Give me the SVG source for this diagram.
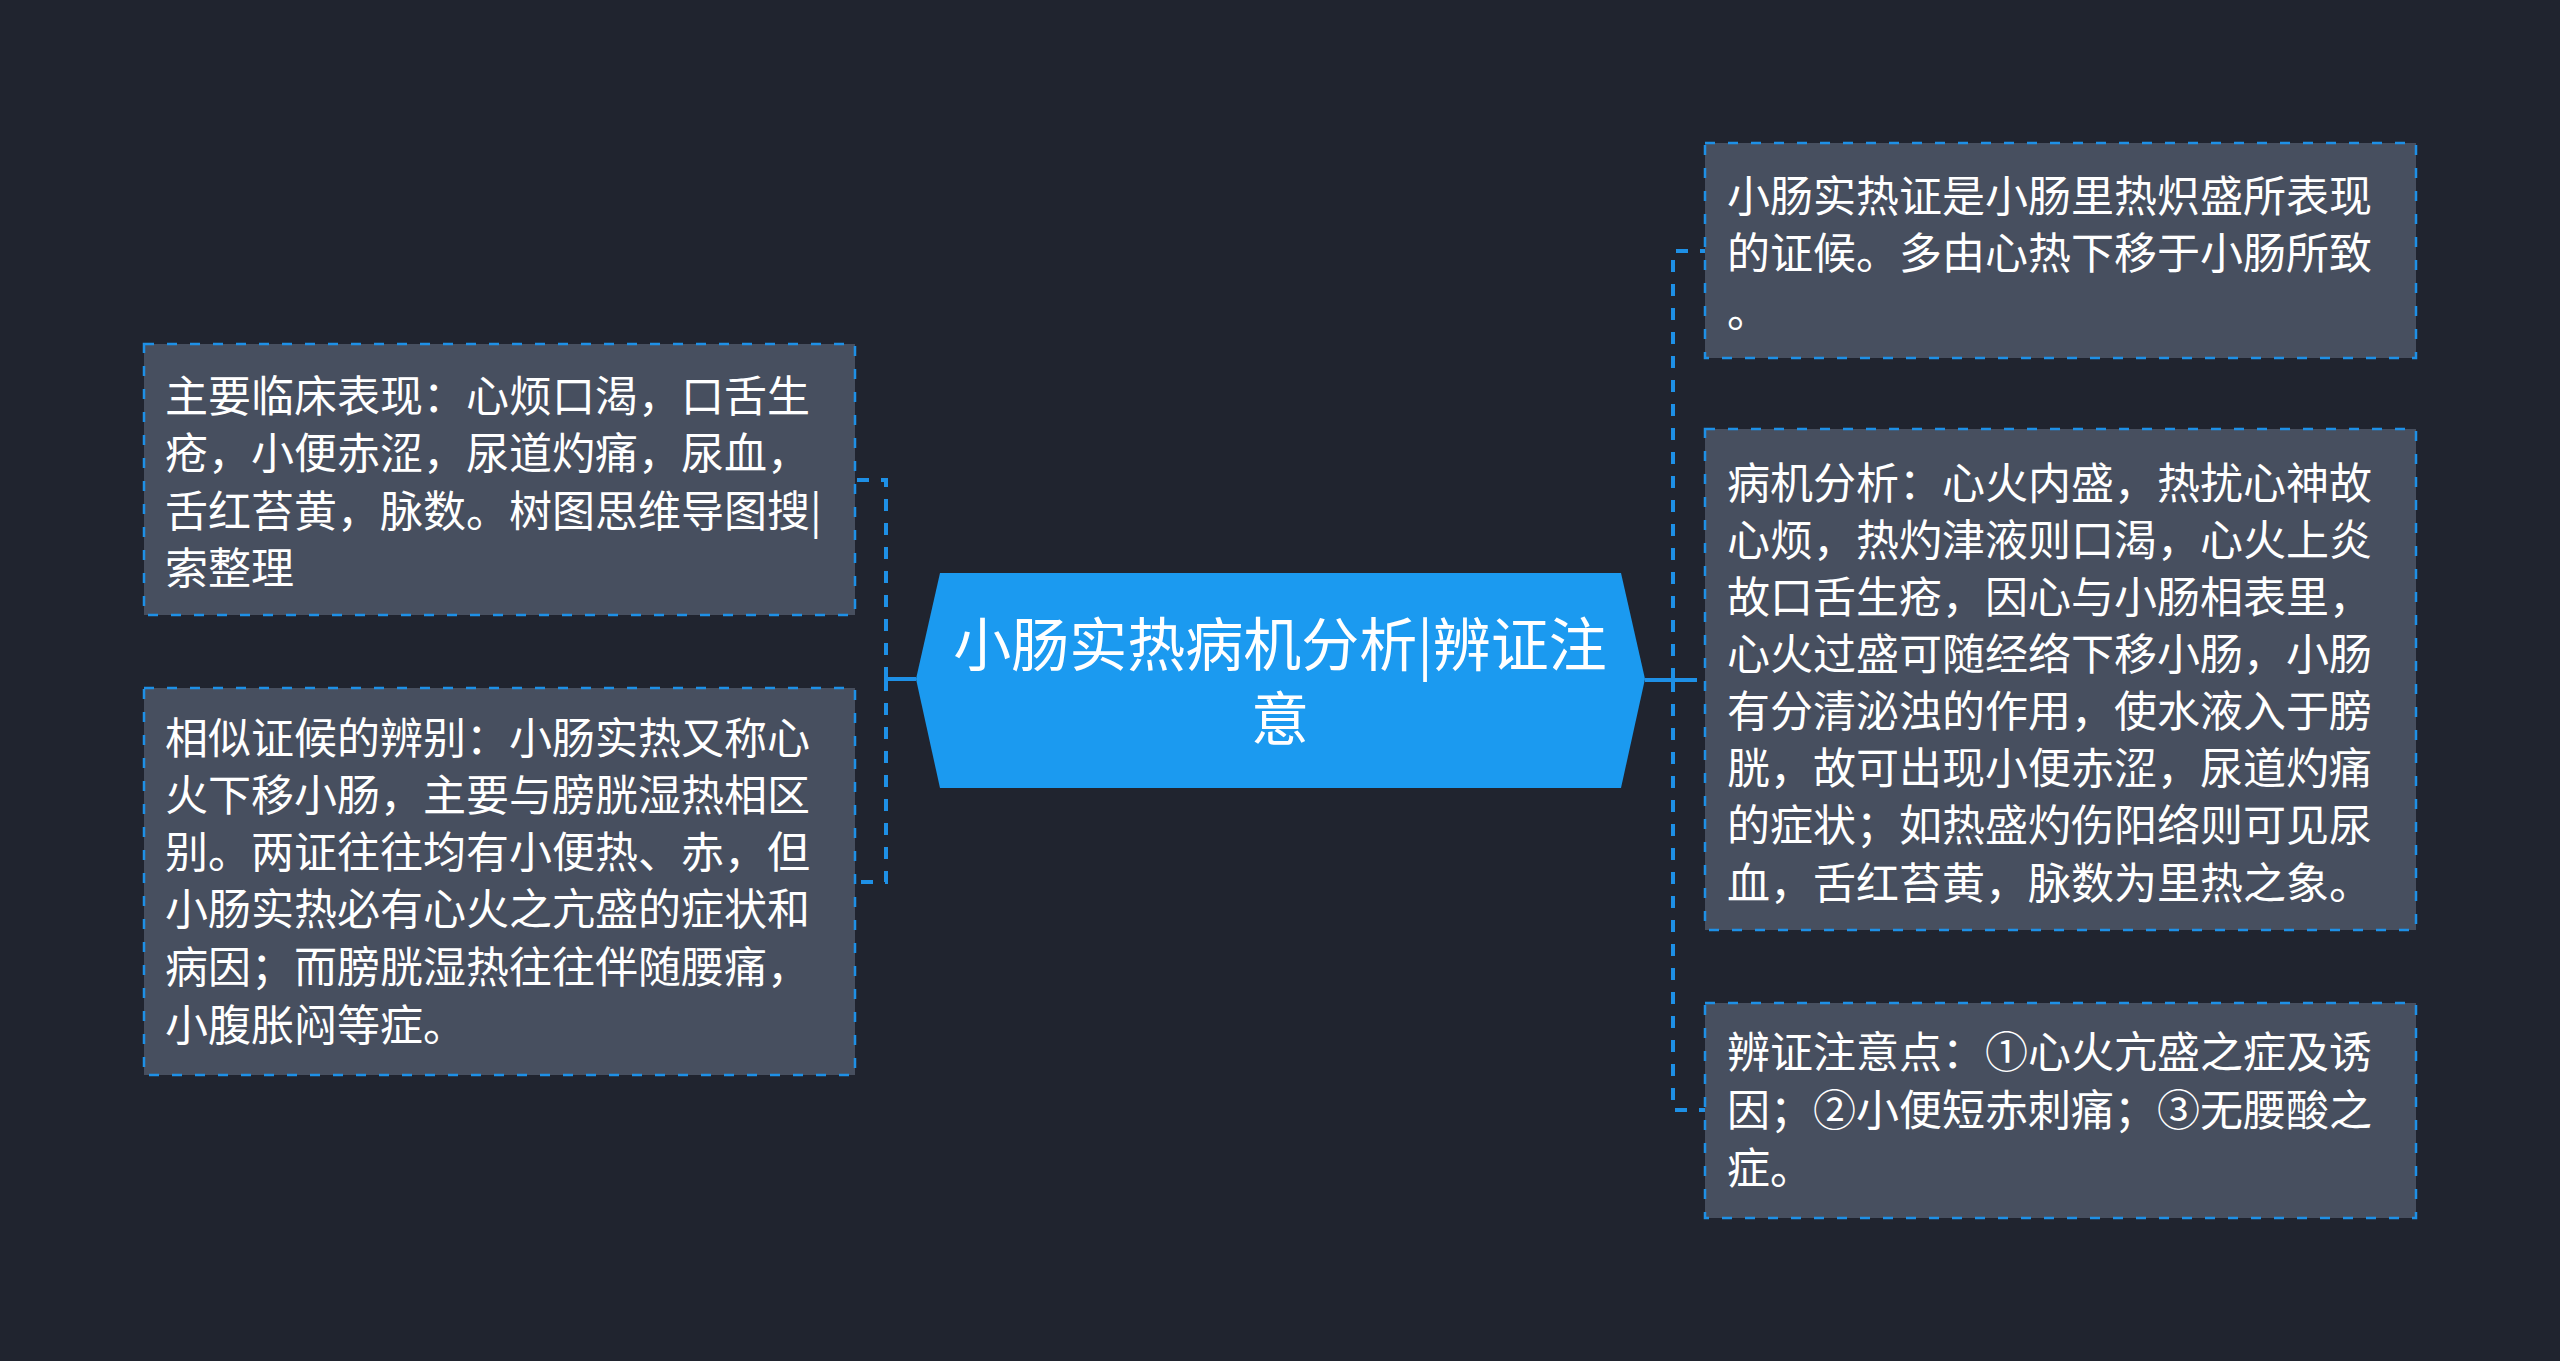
<svg xmlns="http://www.w3.org/2000/svg" width="2560" height="1361" viewBox="0 0 2560 1361">
<style>
.bg{fill:#20242f}
.box{fill:#474f5f;stroke:#1e90e6;stroke-width:2.5;stroke-dasharray:10 13}
.t{font-family:"Noto Sans CJK SC","Noto Sans",sans-serif;font-size:43px;fill:#ffffff}
.ct{font-family:"Noto Sans CJK SC","Noto Sans",sans-serif;font-size:58px;fill:#ffffff;text-anchor:middle}
.main{fill:#1b9af0}
.dash{fill:none;stroke:#1e90e6;stroke-width:4;stroke-dasharray:12 12}
.solid{fill:none;stroke:#1e90e6;stroke-width:4}
</style>
<rect class="bg" x="0" y="0" width="2560" height="1361"/>
<g id="connectors">
  <path class="solid" d="M916 679 H886 M886 667 V691"/>
  <path class="dash" d="M886 679 V480 H855"/>
  <path class="dash" d="M886 679 V882 H855"/>
  <path class="solid" d="M1645 680 H1685 M1673 668 V692"/>
  <path class="dash" d="M1673 680 V251 H1705"/>
  <path class="dash" d="M1685 680 H1705"/>
  <path class="dash" d="M1673 680 V1110 H1705"/>
</g>
<g id="center">
  <polygon class="main" points="940,573 1621,573 1645,679 1621,788 940,788 916,679"/>
  <text class="ct"><tspan x="1280" y="666">小肠实热病机分析|辨证注</tspan><tspan x="1280" y="740">意</tspan></text>
</g>
<g id="left1">
  <rect class="box" x="144" y="344" width="711" height="271"/>
  <text class="t" x="165" y="412">主要临床表现：心烦口渴，口舌生</text>
  <text class="t" x="165" y="469">疮，小便赤涩，尿道灼痛，尿血，</text>
  <text class="t" x="165" y="527">舌红苔黄，脉数。树图思维导图搜|</text>
  <text class="t" x="165" y="584">索整理</text>
</g>
<g id="left2">
  <rect class="box" x="144" y="688" width="711" height="387"/>
  <text class="t" x="165" y="754">相似证候的辨别：小肠实热又称心</text>
  <text class="t" x="165" y="811">火下移小肠，主要与膀胱湿热相区</text>
  <text class="t" x="165" y="868">别。两证往往均有小便热、赤，但</text>
  <text class="t" x="165" y="925">小肠实热必有心火之亢盛的症状和</text>
  <text class="t" x="165" y="983">病因；而膀胱湿热往往伴随腰痛，</text>
  <text class="t" x="165" y="1041">小腹胀闷等症。</text>
</g>
<g id="right1">
  <rect class="box" x="1705" y="143" width="711" height="215"/>
  <text class="t" x="1727" y="212">小肠实热证是小肠里热炽盛所表现</text>
  <text class="t" x="1727" y="269">的证候。多由心热下移于小肠所致</text>
  <text class="t" x="1727" y="327">。</text>
</g>
<g id="right2">
  <rect class="box" x="1705" y="429" width="711" height="501"/>
  <text class="t" x="1727" y="499">病机分析：心火内盛，热扰心神故</text>
  <text class="t" x="1727" y="556">心烦，热灼津液则口渴，心火上炎</text>
  <text class="t" x="1727" y="613">故口舌生疮，因心与小肠相表里，</text>
  <text class="t" x="1727" y="670">心火过盛可随经络下移小肠，小肠</text>
  <text class="t" x="1727" y="727">有分清泌浊的作用，使水液入于膀</text>
  <text class="t" x="1727" y="784">胱，故可出现小便赤涩，尿道灼痛</text>
  <text class="t" x="1727" y="841">的症状；如热盛灼伤阳络则可见尿</text>
  <text class="t" x="1727" y="899">血，舌红苔黄，脉数为里热之象。</text>
</g>
<g id="right3">
  <rect class="box" x="1705" y="1003" width="711" height="215"/>
  <text class="t" x="1727" y="1068">辨证注意点：①心火亢盛之症及诱</text>
  <text class="t" x="1727" y="1126">因；②小便短赤刺痛；③无腰酸之</text>
  <text class="t" x="1727" y="1184">症。</text>
</g>
</svg>
